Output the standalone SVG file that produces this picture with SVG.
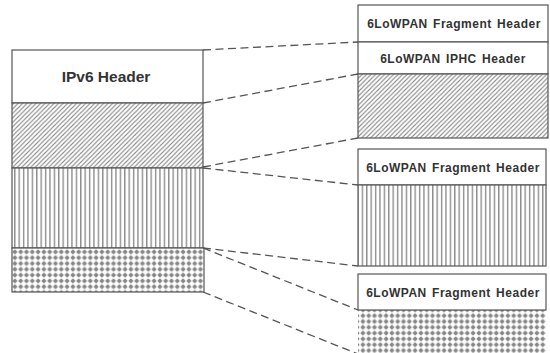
<svg xmlns="http://www.w3.org/2000/svg" width="550" height="353" viewBox="0 0 550 353">
<style>
.box{fill:#fff;stroke:#555;stroke-width:1.2}
.pbox{stroke:#555;stroke-width:1.2}
.t{font-family:"Liberation Sans",Arial,sans-serif;font-weight:bold;fill:#333;text-anchor:middle}
.s{font-size:12px;letter-spacing:0.5px;word-spacing:1.5px}
.c line{stroke:#555;stroke-width:1.3;stroke-dasharray:8 4.5;fill:none}
</style>
<defs>
<pattern id="diag" patternUnits="userSpaceOnUse" width="4.5" height="4.5">
<rect width="4.5" height="4.5" fill="#fff"/>
<path d="M-1,1 L1,-1 M0,4.5 L4.5,0 M3.5,5.5 L5.5,3.5" stroke="#808080" stroke-width="1.1"/>
</pattern>
<pattern id="vert" patternUnits="userSpaceOnUse" width="4.4" height="4">
<rect width="4.4" height="4" fill="#fff"/>
<rect x="1" y="0" width="1.2" height="4" fill="#7a7a7a"/>
</pattern>
<pattern id="dots" patternUnits="userSpaceOnUse" width="5.8" height="5.8" x="12" y="249">
<rect width="5.8" height="5.8" fill="#fff"/>
<rect x="0.7" y="2.1" width="4.4" height="1.6" fill="#858585"/>
<rect x="2.1" y="0.7" width="1.6" height="4.4" fill="#858585"/>
<rect x="1.4" y="1.4" width="3" height="3" fill="#858585"/>
</pattern>
</defs>

<g id="ipv6-packet">
<rect class="box" x="12" y="50" width="191" height="53"/>
<text class="t" x="106" y="82" font-size="15.5">IPv6 Header</text>
<rect class="pbox" x="12" y="103" width="191" height="65" fill="url(#diag)"/>
<rect class="pbox" x="12" y="168" width="191" height="80" fill="url(#vert)"/>
<rect class="pbox" x="12" y="248" width="192" height="44" fill="url(#dots)"/>
</g>

<g id="fragment-1">
<rect class="box" x="358" y="5" width="190" height="37"/>
<text class="t s" x="454" y="28">6LoWPAN Fragment Header</text>
<rect class="box" x="358" y="42" width="190" height="32"/>
<text class="t s" x="453" y="63">6LoWPAN IPHC Header</text>
<rect class="pbox" x="358" y="74" width="190" height="64" fill="url(#diag)"/>
</g>

<g id="fragment-2">
<rect class="box" x="358" y="149" width="188" height="36"/>
<text class="t s" x="453" y="172">6LoWPAN Fragment Header</text>
<rect class="pbox" x="358" y="185" width="188" height="81" fill="url(#vert)"/>
</g>

<g id="fragment-3">
<rect x="358" y="310" width="188" height="45" fill="url(#dots)"/>
<rect class="box" x="358" y="274" width="188" height="36"/>
<text class="t s" x="453" y="297">6LoWPAN Fragment Header</text>
</g>

<g id="connectors" class="c">
<line x1="203" y1="50" x2="358" y2="42"/>
<line x1="203" y1="103" x2="358" y2="74"/>
<line x1="203" y1="167" x2="358" y2="138"/>
<line x1="203" y1="168" x2="358" y2="185"/>
<line x1="203" y1="248" x2="358" y2="266"/>
<line x1="203" y1="248" x2="358" y2="310"/>
<line x1="203" y1="292" x2="358" y2="354"/>
</g>
</svg>
